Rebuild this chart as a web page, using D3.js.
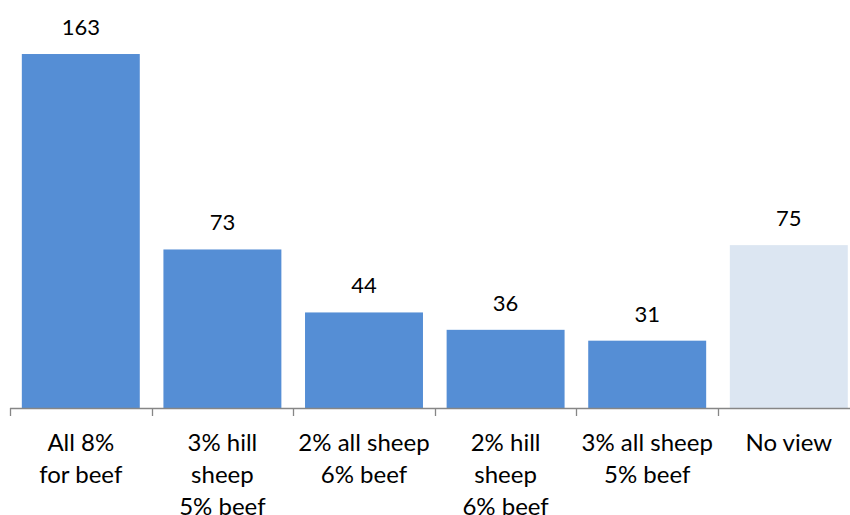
<!DOCTYPE html>
<html>
<head>
<meta charset="utf-8">
<script src="https://cdn.jsdelivr.net/npm/d3@7"></script>
<style>
html,body{margin:0;padding:0;background:#fff;}
svg{display:block;}
text{font-family:Lato,"Open Sans",sans-serif;font-size:22px;fill:#000;}
text.cat{font-size:24px;}
</style>
</head>
<body>
<svg id="chart" width="850" height="515"></svg>
<script>
const categories = ["All 8% for beef","3% hill sheep 5% beef","2% all sheep 6% beef","2% hill sheep 6% beef","3% all sheep 5% beef","No view"];
const categoryLines = [["All 8%","for beef"],["3% hill","sheep","5% beef"],["2% all sheep","6% beef"],["2% hill","sheep","6% beef"],["3% all sheep","5% beef"],["No view"]];
const values = [163,73,44,36,31,75];
const highlight = [false,false,false,false,false,true];

const svg = d3.select("#chart");
const x = d3.scaleBand().domain(categories).range([10, 859.6]).paddingInner(0.167).paddingOuter(0.0835);
const y = d3.scaleLinear().domain([0,180]).range([408, 17.1]);

svg.selectAll("rect.bar").data(categories).enter().append("rect")
  .attr("x", d => x(d)).attr("width", x.bandwidth())
  .attr("y", (d,i) => y(values[i])).attr("height", (d,i) => y(0)-y(values[i]))
  .attr("fill", (d,i) => highlight[i] ? "#DCE6F2" : "#558ED5");

svg.selectAll("text.val").data(categories).enter().append("text")
  .attr("class","val")
  .attr("x", d => x(d)+x.bandwidth()/2).attr("y", (d,i) => y(values[i]) - 19)
  .attr("text-anchor","middle").text((d,i) => values[i]);

// axis
const step = x.step();
const axisG = svg.append("g");
axisG.append("line").attr("x1",10).attr("x2",10+step*categories.length).attr("y1",408.5).attr("y2",408.5).attr("stroke","#868686").attr("stroke-width",1.3);
const tickXs = d3.range(categories.length+1).map(i => 10 + i*step);
axisG.selectAll("line.tick").data(tickXs).enter().append("line")
  .attr("x1", d=>Math.round(d)+0.5).attr("x2", d=>Math.round(d)+0.5).attr("y1",408).attr("y2",416)
  .attr("stroke","#868686").attr("stroke-width",1.3);

svg.selectAll("text.cat").data(categories).enter().append("text")
  .attr("class","cat")
  .attr("text-anchor","middle")
  .each(function(d,i){
    const t = d3.select(this);
    categoryLines[i].forEach((ln,j) => {
      t.append("tspan").attr("x", x(d)+x.bandwidth()/2).attr("y", 451 + j*32).text(ln);
    });
  });
</script>
</body>
</html>
